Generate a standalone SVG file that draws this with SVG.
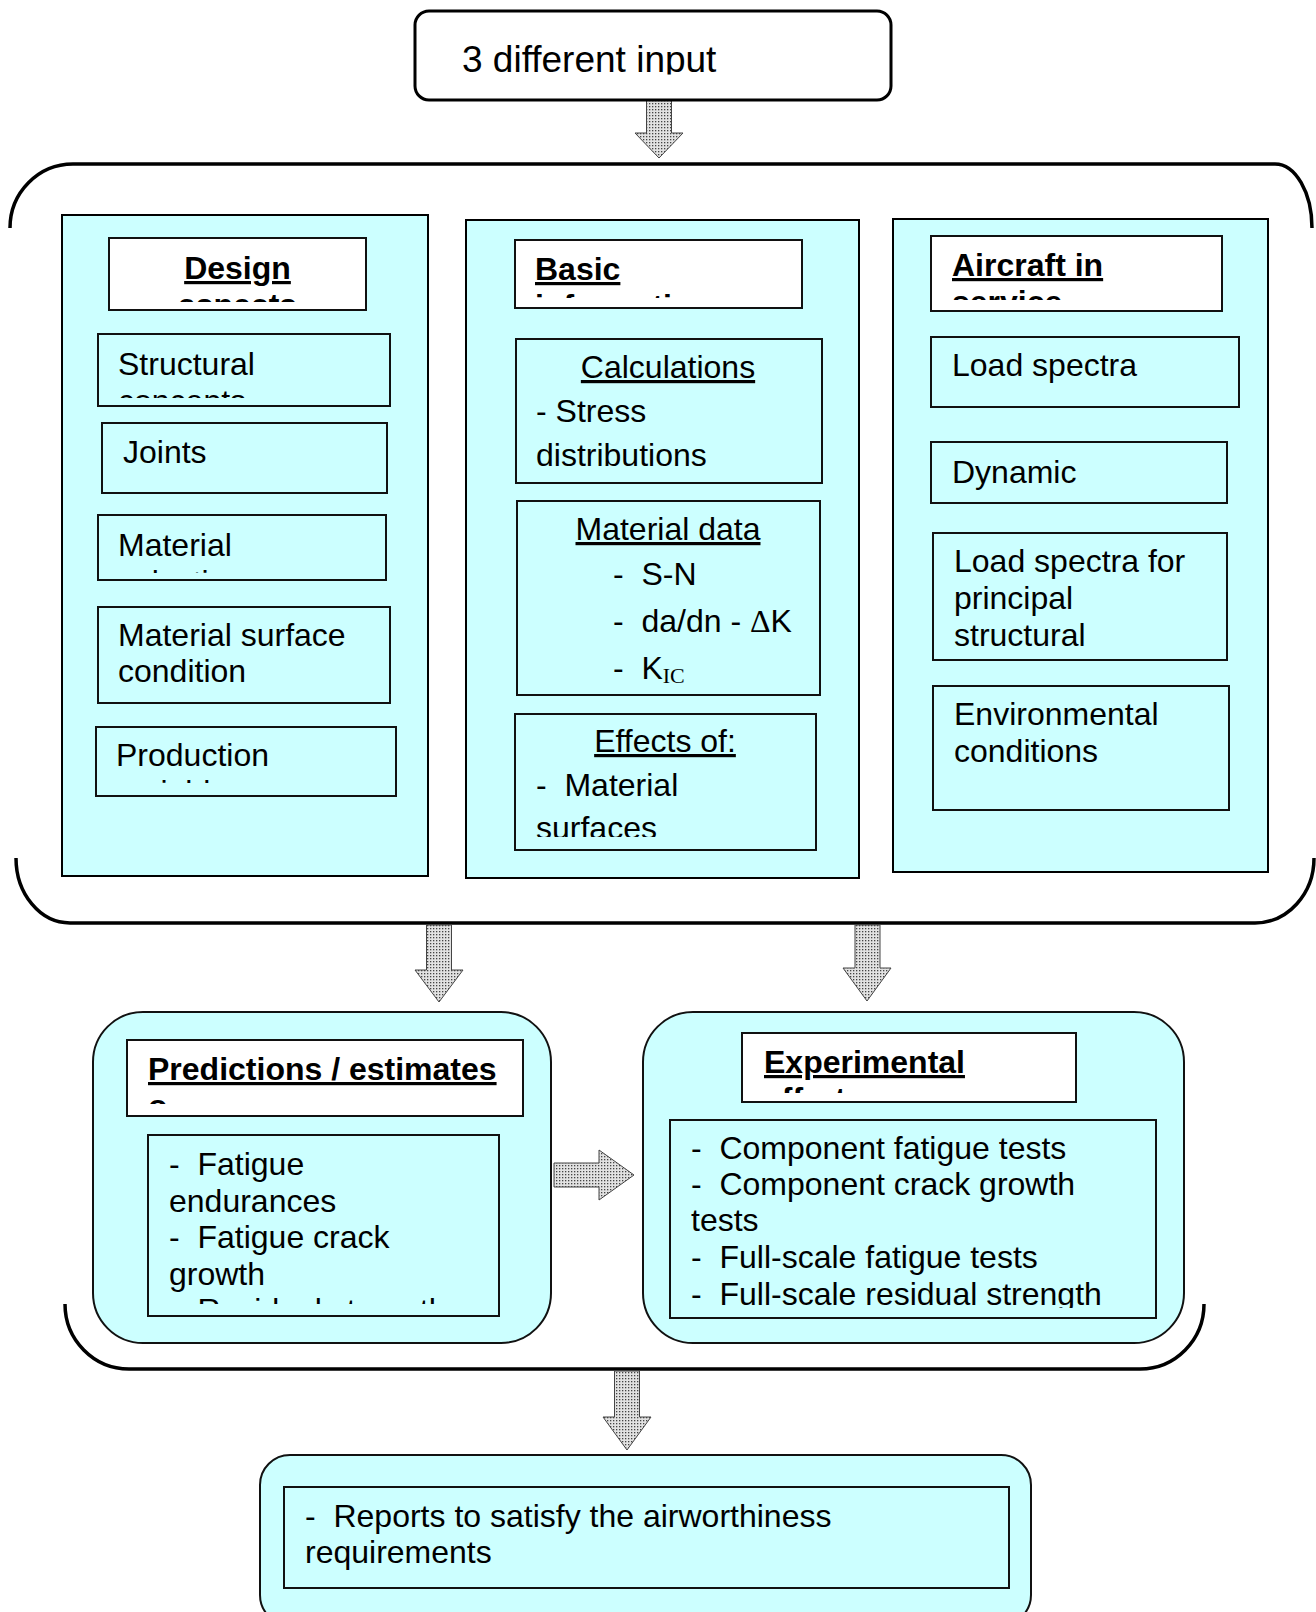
<svg xmlns="http://www.w3.org/2000/svg" width="1316" height="1612" viewBox="0 0 1316 1612">
<style>
text{font-family:"Liberation Sans",Arial,sans-serif;font-size:32px;fill:#000;white-space:pre}
.b{font-weight:bold;text-decoration:underline}
.u{text-decoration:underline}
.mid{text-anchor:middle}
.col{fill:#ccffff;stroke:#000;stroke-width:2}
.box{fill:#ccffff;stroke:#111;stroke-width:2}
.tbox{fill:#fff;stroke:#111;stroke-width:2}
.rnd{fill:#ccffff;stroke:#111;stroke-width:2}
.brk{fill:none;stroke:#000;stroke-width:3.5}
.arr{fill:url(#dots);stroke:#444;stroke-width:1}
.serif{font-family:"Liberation Serif","Times New Roman",serif}
</style>
<defs>
<pattern id="dots" width="3" height="3" patternUnits="userSpaceOnUse"><rect width="3" height="3" fill="#e2e2e2"/><rect x="1" y="1" width="1.3" height="1.3" fill="#444"/></pattern>
<clipPath id="c-top"><rect x="415" y="11" width="476" height="63.5"/></clipPath>
<clipPath id="c-design"><rect x="109" y="238" width="257" height="64"/></clipPath>
<clipPath id="c-struct"><rect x="98" y="334" width="292" height="64"/></clipPath>
<clipPath id="c-mat"><rect x="98" y="515" width="288" height="58"/></clipPath>
<clipPath id="c-prod"><rect x="96" y="727" width="300" height="56"/></clipPath>
<clipPath id="c-basic"><rect x="515" y="240" width="287" height="58"/></clipPath>
<clipPath id="c-effects"><rect x="515" y="713" width="301" height="124"/></clipPath>
<clipPath id="c-air"><rect x="931" y="235" width="291" height="65"/></clipPath>
<clipPath id="c-predt"><rect x="127" y="1040" width="396" height="64"/></clipPath>
<clipPath id="c-predc"><rect x="148" y="1135" width="351" height="169"/></clipPath>
<clipPath id="c-expt"><rect x="742" y="1033" width="334" height="60"/></clipPath>
<clipPath id="c-expc"><rect x="670" y="1120" width="486" height="188"/></clipPath>
</defs>

<g id="connectors">
<path class="brk" d="M 10 228 A 63 64 0 0 1 73 164 L 1275 164 A 37 64 0 0 1 1312 228"/>
<path class="brk" d="M 16 858 A 54 65 0 0 0 70 923 L 1255 923 A 59 65 0 0 0 1314 858"/>
<path class="brk" d="M 65 1304 A 64 65 0 0 0 129 1369 L 1140 1369 A 64 65 0 0 0 1204 1304"/>
<polygon class="arr" points="646.5,100 671.5,100 671.5,133 683,133 659,158 635,133 646.5,133"/>
<polygon class="arr" points="426.5,925 451.5,925 451.5,970 463,970 439,1002 415,970 426.5,970"/>
<polygon class="arr" points="855,925 880,925 880,968 891,968 867,1001 843,968 855,968"/>
<polygon class="arr" points="554,1163 599,1163 599,1150 634,1175 599,1200 599,1187 554,1187"/>
<polygon class="arr" points="614.5,1371 639.5,1371 639.5,1417 651,1417 627,1450 603,1417 614.5,1417"/>
</g>

<g id="input">
<rect x="415" y="11" width="476" height="89" rx="14" fill="#fff" stroke="#000" stroke-width="3"/>
<text x="462" y="72" style="font-size:37px" clip-path="url(#c-top)">3 different input</text>
</g>

<g id="design">
<rect class="col" x="62" y="215" width="366" height="661"/>
<g id="design-title">
<rect class="tbox" x="109" y="238" width="257" height="72"/>
<g clip-path="url(#c-design)"><text class="b mid" x="237.5" y="279">Design</text><text class="b mid" x="237.5" y="316">aspects</text></g>
</g>
<g id="structural">
<rect class="box" x="98" y="334" width="292" height="72"/>
<g clip-path="url(#c-struct)"><text x="118" y="375">Structural</text><text x="118" y="412">concepts</text></g>
</g>
<g id="joints">
<rect class="box" x="102" y="423" width="285" height="70"/>
<text x="123" y="463">Joints</text>
</g>
<g id="material">
<rect class="box" x="98" y="515" width="288" height="65"/>
<g clip-path="url(#c-mat)"><text x="118" y="556">Material</text><text x="118" y="593">selection</text></g>
</g>
<g id="surface">
<rect class="box" x="98" y="607" width="292" height="96"/>
<text x="118" y="646">Material surface</text>
<text x="118" y="682">condition</text>
</g>
<g id="production">
<rect class="box" x="96" y="727" width="300" height="69"/>
<g clip-path="url(#c-prod)"><text x="116" y="766">Production</text><text x="116" y="803">variables</text></g>
</g>
</g>

<g id="basic">
<rect class="col" x="466" y="220" width="393" height="658"/>
<g id="basic-title">
<rect class="tbox" x="515" y="240" width="287" height="68"/>
<g clip-path="url(#c-basic)"><text class="b" x="535" y="280">Basic</text><text class="b" x="535" y="317">information</text></g>
</g>
<g id="calculations">
<rect class="box" x="516" y="339" width="306" height="144"/>
<text class="u mid" x="668" y="378">Calculations</text>
<text x="536" y="422">- Stress</text>
<text x="536" y="466">distributions</text>
</g>
<g id="material-data">
<rect class="box" x="517" y="501" width="303" height="194"/>
<text class="u mid" x="668" y="540">Material data</text>
<text x="613" y="585">-  S-N</text>
<text x="613" y="632">-  da/dn - <tspan class="serif">Δ</tspan>K</text>
<text x="613" y="679">-  K<tspan class="serif" style="font-size:22px" dy="4">IC</tspan></text>
</g>
<g id="effects">
<rect class="box" x="515" y="714" width="301" height="136"/>
<g clip-path="url(#c-effects)"><text class="u mid" x="665" y="752">Effects of:</text><text x="536" y="796">-  Material</text><text x="536" y="839">surfaces</text></g>
</g>
</g>

<g id="aircraft">
<rect class="col" x="893" y="219" width="375" height="653"/>
<g id="aircraft-title">
<rect class="tbox" x="931" y="236" width="291" height="75"/>
<g clip-path="url(#c-air)"><text class="b" x="952" y="276">Aircraft in</text><text class="b" x="952" y="313">service</text></g>
</g>
<g id="load-spectra">
<rect class="box" x="931" y="337" width="308" height="70"/>
<text x="952" y="376">Load spectra</text>
</g>
<g id="dynamic">
<rect class="box" x="931" y="442" width="296" height="61"/>
<text x="952" y="483">Dynamic</text>
</g>
<g id="load-spectra-principal">
<rect class="box" x="933" y="533" width="294" height="127"/>
<text x="954" y="572">Load spectra for</text>
<text x="954" y="609">principal</text>
<text x="954" y="646">structural</text>
</g>
<g id="environmental">
<rect class="box" x="933" y="686" width="296" height="124"/>
<text x="954" y="725">Environmental</text>
<text x="954" y="762">conditions</text>
</g>
</g>

<g id="predictions">
<rect class="rnd" x="93" y="1012" width="458" height="331" rx="50"/>
<g id="predictions-title">
<rect class="tbox" x="127" y="1040" width="396" height="76"/>
<g clip-path="url(#c-predt)"><text class="b" x="148" y="1080">Predictions / estimates</text><text class="b" x="148" y="1117">o</text></g>
</g>
<g id="predictions-list">
<rect class="box" x="148" y="1135" width="351" height="181"/>
<g clip-path="url(#c-predc)"><text x="169" y="1175">-  Fatigue</text><text x="169" y="1212">endurances</text><text x="169" y="1248">-  Fatigue crack</text><text x="169" y="1285">growth</text><text x="169" y="1321">-  Residual strength</text></g>
</g>
</g>

<g id="experimental">
<rect class="rnd" x="643" y="1012" width="541" height="331" rx="50"/>
<g id="experimental-title">
<rect class="tbox" x="742" y="1033" width="334" height="69"/>
<g clip-path="url(#c-expt)"><text class="b" x="764" y="1073">Experimental</text><text class="b" x="764" y="1110">effort</text></g>
</g>
<g id="experimental-list">
<rect class="box" x="670" y="1120" width="486" height="198"/>
<g clip-path="url(#c-expc)"><text x="691" y="1159">-  Component fatigue tests</text><text x="691" y="1195">-  Component crack growth</text><text x="691" y="1231">tests</text><text x="691" y="1268">-  Full-scale fatigue tests</text><text x="691" y="1305">-  Full-scale residual strength</text></g>
</g>
</g>

<g id="reports">
<rect class="rnd" x="260" y="1455" width="771" height="170" rx="30"/>
<rect class="box" x="284" y="1487" width="725" height="101"/>
<text x="305" y="1527">-  Reports to satisfy the airworthiness</text>
<text x="305" y="1563">requirements</text>
</g>
</svg>
